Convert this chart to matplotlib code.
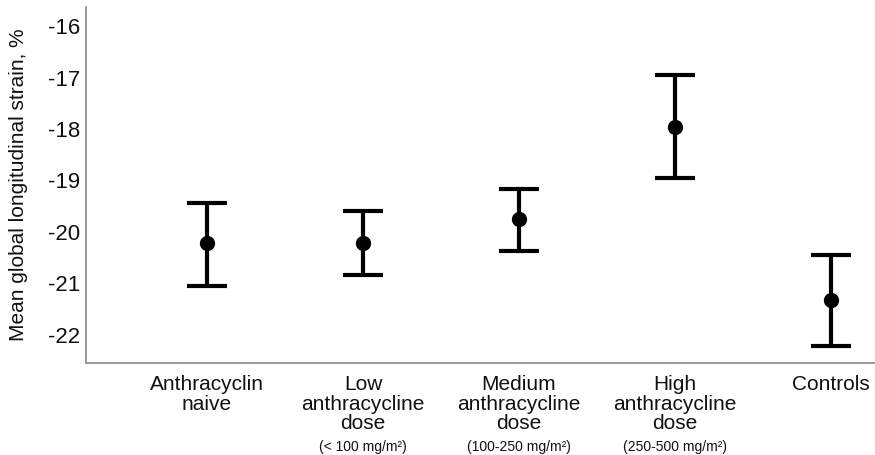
import numpy as np
import matplotlib
matplotlib.use("Agg")
from matplotlib import pyplot as plt

plt.rcParams['font.family'] = ['Liberation Sans', 'DejaVu Sans']

# group means and 95% CI limits of GLS (%)
groups = ["Anthracyclin\nnaive",
          "Low\nanthracycline\ndose",
          "Medium\nanthracycline\ndose",
          "High\nanthracycline\ndose",
          "Controls"]
dose_ranges = ["", "(< 100 mg/m²)", "(100-250 mg/m²)", "(250-500 mg/m²)", ""]
means = [-20.21, -20.22, -19.74, -17.97, -21.33]
ci_low = [-21.04, -20.84, -20.36, -18.95, -22.21]
ci_high = [-19.44, -19.59, -19.17, -16.95, -20.44]
yticks = [-16, -17, -18, -19, -20, -21, -22]

means = np.array(means)
err = np.vstack([means - np.array(ci_low), np.array(ci_high) - means])
x = np.arange(len(groups))

fig = plt.figure(figsize=(8.75, 4.55), dpi=100)
ax = fig.add_axes([0.0983, 0.2022, 0.9017, 0.7824])

ax.errorbar(x, means, yerr=err, fmt='o', color='black', ecolor='black',
            elinewidth=3, capsize=14.5, capthick=3, markersize=10)

ax.set_xlim(-0.776, 4.282)
ax.set_ylim(-22.544, -15.631)
ax.set_yticks(yticks)
ax.set_yticklabels([str(t) for t in yticks], fontsize=16)
ax.set_xticks(x)
ax.set_xticklabels(groups, fontsize=15, linespacing=1.05, color='#111111')
ax.tick_params(axis='both', length=0, colors='#111111')
ax.tick_params(axis='y', pad=4)
ax.tick_params(axis='x', pad=8.5)

for xi, txt in zip(x, dose_ranges):
    if txt:
        ax.text(xi, -0.237, txt, transform=ax.get_xaxis_transform(),
                ha='center', va='center', fontsize=10, color='#111111')

ax.set_ylabel("Mean global longitudinal strain, %", fontsize=15, color='#111111')
ax.yaxis.set_label_coords(-0.0735, 0.5)

for side in ['top', 'right']:
    ax.spines[side].set_visible(False)
for side in ['left', 'bottom']:
    ax.spines[side].set_color('#888888')
    ax.spines[side].set_linewidth(1.2)

fig.savefig("out.png", dpi=100)
